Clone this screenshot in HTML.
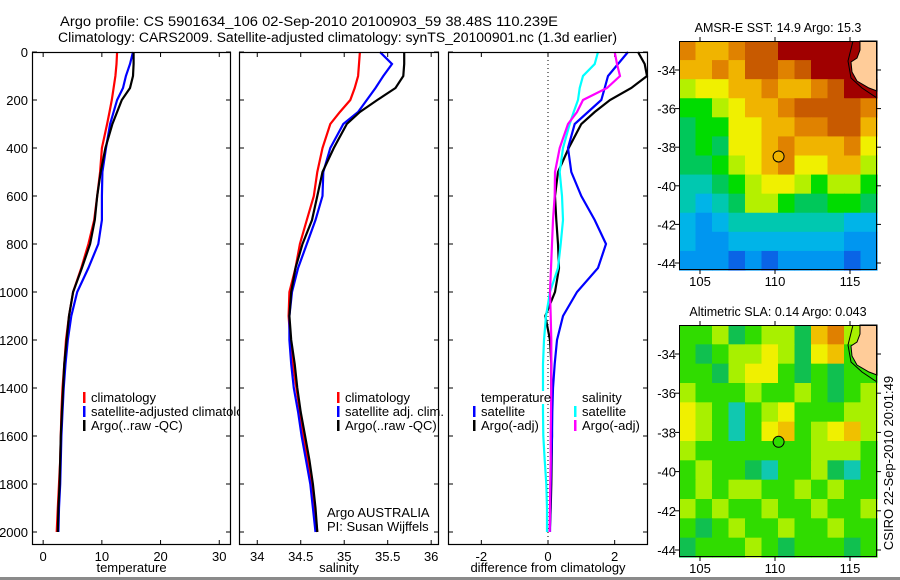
<!DOCTYPE html>
<html><head><meta charset="utf-8">
<style>
html,body{margin:0;padding:0;background:#fff;}
svg{display:block;font-family:"Liberation Sans",sans-serif;}
text{fill:#000;}
</style></head>
<body>
<svg id="fig" width="900" height="580" viewBox="0 0 900 580" xmlns="http://www.w3.org/2000/svg">
<rect x="0" y="0" width="900" height="580" fill="#fff"/>
<text x="60" y="26" font-size="13.5" textLength="498" lengthAdjust="spacingAndGlyphs">Argo profile: CS 5901634_106 02-Sep-2010 20100903_59 38.48S 110.239E</text>
<text x="58" y="42" font-size="13.5" textLength="559" lengthAdjust="spacingAndGlyphs">Climatology: CARS2009. Satellite-adjusted climatology: synTS_20100901.nc (1.3d earlier)</text>
<g id="g1"></g>
<g id="g2"></g>
<g id="g3"></g>
<g id="m1"></g>
<g id="m2"></g>
<text transform="translate(893,463) rotate(-90)" font-size="13" text-anchor="middle">CSIRO 22-Sep-2010 20:01:49</text>
<rect x="0" y="577" width="900" height="3" fill="#8a8a8a"/>
</svg>
<script>
// ---- data ----
const depths = [0,50,100,150,200,250,300,400,500,600,700,800,900,1000,1100,1200,1300,1400,1500,1600,1700,1800,1900,2000];
const tempClim = [12.6,12.5,12.3,12.0,11.7,11.3,10.9,10.0,9.7,9.2,8.7,7.7,6.5,5.1,4.4,3.9,3.6,3.3,3.1,3.0,2.9,2.7,2.5,2.3];
const tempSat  = [15.3,14.8,14.1,13.6,12.6,12.0,11.4,10.7,10.1,10.0,10.0,9.4,7.7,5.8,4.8,4.2,3.8,3.5,3.3,3.1,3.0,2.9,2.7,2.6];
const tempArgo = [15.4,15.4,15.3,14.8,13.4,12.6,11.8,10.6,9.8,9.2,8.8,8.0,6.6,5.1,4.4,4.0,3.6,3.4,3.2,3.0,2.9,2.8,2.6,2.5];
const salClim = [35.18,35.17,35.16,35.12,35.07,34.95,34.84,34.75,34.69,34.65,34.57,34.49,34.44,34.37,34.36,34.38,34.41,34.45,34.49,34.53,34.58,34.62,34.66,34.69];
const salSat  = [35.41,35.55,35.45,35.36,35.26,35.16,34.99,34.84,34.76,34.75,34.67,34.57,34.47,34.40,34.37,34.37,34.39,34.42,34.47,34.51,34.56,34.61,34.64,34.67];
const salArgo = [35.69,35.69,35.68,35.59,35.38,35.18,35.03,34.88,34.75,34.69,34.63,34.52,34.44,34.39,34.37,34.39,34.43,34.46,34.50,34.55,34.60,34.64,34.67,34.69];
const dTempSat  = [2.4,2.1,1.8,1.7,1.6,1.2,0.8,0.6,0.7,1.0,1.4,1.74,1.5,0.87,0.45,0.27,0.2,0.15,0.13,0.12,0.1,0.08,0.07,0.06];
const dTempArgo = [2.7,2.9,2.97,2.5,1.86,1.4,1.0,0.62,0.3,0.21,0.25,0.3,0.33,0.21,-0.08,0.06,0.1,0.1,0.11,0.12,0.11,0.1,0.08,0.05];
const dSalSat   = [1.5,1.4,1.05,0.95,0.9,0.77,0.65,0.45,0.35,0.42,0.45,0.38,0.3,0.06,-0.06,-0.12,-0.15,-0.15,-0.15,-0.14,-0.1,-0.05,-0.03,-0.03];
const dSalArgo  = [2.0,2.07,2.16,1.77,1.05,0.87,0.6,0.35,0.21,0.2,0.15,0.12,0.09,0.06,0.08,0.1,0.1,0.1,0.09,0.08,0.08,0.07,0.06,0.05];
const depthTicks = [0,200,400,600,800,1000,1200,1400,1600,1800,2000];
const tempTicks = [0,10,20,30];
const salTicks = [34,34.5,35,35.5,36];
const salTickLabels = ["34","34.5","35","35.5","36"];
const diffTicks = [-2,0,2];
const latTicks = [-34,-36,-38,-40,-42,-44];
const lonTicks = [105,110,115];
const argoLon = 110.239, argoLat = -38.48;
const sstGrid = [
"9 8 8 9 10 10 11 11 11 11 11 L",
"8 8 9 8 10 10 9 10 11 11 11 L",
"6 7 7 8 8 9 8 8 9 10 11 11",
"5 5 6 7 8 8 9 10 10 10 10 9",
"4 5 5 7 7 8 8 9 9 10 10 8",
"4 5 4 7 7 8 9 8 8 8 9 7",
"4 4 5 6 7 8 9 7 7 8 8 6",
"3 3 4 5 6 7 7 6 5 6 6 5",
"3 2 3 4 6 6 5 4 4 5 5 4",
"2 1 2 3 3 3 3 3 3 3 2 2",
"2 1 1 2 2 2 2 2 2 2 1 1",
"1 1 1 0 1 0 1 1 1 1 0 1"];
const slaGrid = [
"5 5 6 4 5 6 6 4 8 9 6 L",
"5 4 5 6 6 7 6 4 7 8 5 L",
"5 5 4 6 7 7 5 4 5 4 5 5",
"6 5 5 5 6 5 5 6 5 4 5 6",
"7 6 5 3 5 6 7 5 5 5 6 6",
"7 6 5 3 5 7 8 5 6 7 8 6",
"6 5 5 5 5 5 5 5 6 6 6 5",
"5 6 5 5 4 3 5 5 6 4 3 5",
"5 6 5 6 6 5 5 6 5 6 5 5",
"6 5 6 5 5 6 5 5 6 5 5 6",
"5 4 5 6 5 5 6 5 5 6 5 5",
"4 5 5 5 6 5 4 5 5 5 4 5"];
const sstColors = ["#0a64e6","#0096f0","#00b4e8","#00c8b0","#00c85a","#00dc00","#b4f000","#f0f000","#f0b400","#e08200","#c85a00","#a00000"];
const slaColors = ["#0a64e6","#0096f0","#00b4e8","#10c8b0","#10c050","#30dc00","#a8f000","#f0f000","#f0c000","#e08000","#c85a00","#a00000"];
const sstArgoClass = 8, slaArgoClass = 5;

const NS="http://www.w3.org/2000/svg";
function mk(parent, tag, attrs){const e=document.createElementNS(NS,tag);for(const k in attrs)e.setAttribute(k,attrs[k]);parent.appendChild(e);return e;}
const Y0=52, Y1=545, yD=d=>52+d*0.24;

function panel(g, x0, x1, xmin, xmax, ticks, labels, xtitle){
  const xs=v=>x0+(v-xmin)/(xmax-xmin)*(x1-x0);
  const bg=mk(g,'rect',{x:x0,y:Y0,width:x1-x0,height:Y1-Y0,fill:'#fff',stroke:'none'});
  
  
  ticks.forEach((t,i)=>{
    const x=xs(t);
    mk(g,'line',{x1:x,y1:Y1,x2:x,y2:Y1-5,stroke:'#000'});
    mk(g,'line',{x1:x,y1:Y0,x2:x,y2:Y0+5,stroke:'#000'});
    const tl=mk(g,'text',{x:x,y:561,'font-size':13,'text-anchor':'middle'});
    tl.textContent=labels[i];
    
    
  });
  depthTicks.forEach(d=>{
    const y=yD(d);
    mk(g,'line',{x1:x0,y1:y,x2:x0+5,y2:y,stroke:'#000'});
    mk(g,'line',{x1:x1,y1:y,x2:x1-5,y2:y,stroke:'#000'});
  });
  const tt=mk(g,'text',{x:(x0+x1)/2,y:572,'font-size':13,'text-anchor':'middle'});
  tt.textContent=xtitle;
  
  
  return xs;
}
function line(g, xs, vals, color, name){
  const pts=vals.map((v,i)=>xs(v).toFixed(1)+','+yD(depths[i]).toFixed(1)).join(' ');
  const p=mk(g,'polyline',{points:pts,fill:'none',stroke:color,'stroke-width':2.2,'stroke-linejoin':'miter'});
  
  
}
function frame(g,x0,x1){mk(g,'rect',{x:x0+0.5,y:Y0+0.5,width:x1-x0-1,height:Y1-Y0-1,fill:'none',stroke:'#000','stroke-width':1.2});}
function legend(g,x,y,color,label,name){
  if(color) mk(g,'rect',{x:x,y:y-10,width:2.5,height:11,fill:color});
  const t=mk(g,'text',{x:x+8,y:y,'font-size':13});
  t.textContent=label;
  
  
}

const g1=document.getElementById('g1');
const xs1=panel(g1,32,231,-1.9,32,tempTicks,tempTicks.map(String),'temperature');
depthTicks.forEach(d=>{const t=mk(g1,'text',{x:28,y:yD(d)+5,'font-size':13,'text-anchor':'end'});t.textContent=String(d);
  
  });
line(g1,xs1,tempClim,'#f00','temp-climatology-line');
line(g1,xs1,tempSat,'#00f','temp-satellite-line');
line(g1,xs1,tempArgo,'#000','temp-argo-line');
frame(g1,32,231);
legend(g1,83,402,'#f00','climatology','legend-climatology');
legend(g1,83,416,'#00f','satellite-adjusted climatology','legend-satellite-adjusted');
legend(g1,83,430,'#000','Argo(..raw -QC)','legend-argo');

const g2=document.getElementById('g2');
const xs2=panel(g2,239,439,33.79,36.09,salTicks,salTickLabels,'salinity');
line(g2,xs2,salClim,'#f00','sal-climatology-line');
line(g2,xs2,salSat,'#00f','sal-satellite-line');
line(g2,xs2,salArgo,'#000','sal-argo-line');
frame(g2,239,439);
legend(g2,337,402,'#f00','climatology','legend-climatology');
legend(g2,337,416,'#00f','satellite adj. clim.','legend-satellite-adj');
legend(g2,337,430,'#000','Argo(..raw -QC)','legend-argo');
legend(g2,319,517,null,'Argo AUSTRALIA','argo-australia-label');
legend(g2,319,531,null,'PI: Susan Wijffels','pi-label');

const g3=document.getElementById('g3');
const xs3=panel(g3,448,648,-3,3,diffTicks,diffTicks.map(String),'difference from climatology');
mk(g3,'line',{x1:xs3(0),y1:Y0,x2:xs3(0),y2:Y1,stroke:'#000','stroke-dasharray':'1,3'});
line(g3,xs3,dTempArgo,'#000','diff-temp-argo-line');
line(g3,xs3,dTempSat,'#00f','diff-temp-satellite-line');
line(g3,xs3,dSalSat,'#0ff','diff-sal-satellite-line');
line(g3,xs3,dSalArgo,'#f0f','diff-sal-argo-line');
frame(g3,448,648);
mk(g3,'rect',{x:479,y:391,width:70,height:13,fill:'#fff'});
legend(g3,473,402,null,'temperature','legend-temperature-header');
legend(g3,473,416,'#00f','satellite','legend-temp-satellite');
legend(g3,473,430,'#000','Argo(-adj)','legend-temp-argo');
legend(g3,574,402,null,'salinity','legend-salinity-header');
legend(g3,574,416,'#0ff','satellite','legend-sal-satellite');
legend(g3,574,430,'#f0f','Argo(-adj)','legend-sal-argo');

function map(g, top, bottom, grid, colors, title, argoClass){
  const L=679,R=877;
  const lonS=v=>700+(v-105)*15;
  const latS=v=>top+29+(-34-v)*((bottom-top-36)/10);
  const rows=grid.map(r=>r.split(' '));
  const nr=rows.length, nc=rows[0].length;
  const cw=(R-L)/nc, ch=(bottom-top)/nr;
  rows.forEach((r,i)=>r.forEach((v,j)=>{
    const c=mk(g,'rect',{x:(L+j*cw).toFixed(2),y:(top+i*ch).toFixed(2),width:(cw+0.6).toFixed(2),height:(ch+0.6).toFixed(2),fill:v==='L'?'#ffcc99':colors[+v]});
    
    
  }));
  const land=mk(g,'polygon',{points:`860,${top} ${R},${top} ${R},${top+50} 869,${top+47} 857,${top+40} 852,${top+31} 851,${top+21} 857,${top+17} 860,${top+9}`,fill:'#ffcc99',stroke:'#000','stroke-width':1});
  
  
  mk(g,'polyline',{points:`853,${top} 848,${top+20} 851,${top+37} 862,${top+47} ${R},${top+57}`,fill:'none',stroke:'#000','stroke-width':1});
  mk(g,'rect',{x:L+0.5,y:top+0.5,width:R-L-1,height:bottom-top-1,fill:'none',stroke:'#000'});
  latTicks.forEach(t=>{const y=latS(t);
    mk(g,'line',{x1:L-4,y1:y,x2:L,y2:y,stroke:'#000'});
    mk(g,'line',{x1:R,y1:y,x2:R+4,y2:y,stroke:'#000'});
    const tl=mk(g,'text',{x:L-3,y:y+5,'font-size':13,'text-anchor':'end'});tl.textContent=String(t);
    
    });
  lonTicks.forEach(t=>{const x=lonS(t);
    mk(g,'line',{x1:x,y1:top-4,x2:x,y2:top,stroke:'#000'});
    mk(g,'line',{x1:x,y1:bottom,x2:x,y2:bottom+4,stroke:'#000'});
    const tl=mk(g,'text',{x:x,y:bottom+16,'font-size':13,'text-anchor':'middle'});tl.textContent=String(t);
    
    });
  const tt=mk(g,'text',{x:778,y:top-9,'font-size':12.5,'text-anchor':'middle'});tt.textContent=title;
  
  
  const dot=mk(g,'circle',{cx:lonS(argoLon),cy:latS(argoLat),r:5.5,fill:colors[argoClass],stroke:'#000','stroke-width':1});
  
  
}
map(document.getElementById('m1'),41,270,sstGrid,sstColors,'AMSR-E SST: 14.9 Argo: 15.3',sstArgoClass);
map(document.getElementById('m2'),325,557,slaGrid,slaColors,'Altimetric SLA: 0.14 Argo: 0.043',slaArgoClass);
</script>
</body></html>
